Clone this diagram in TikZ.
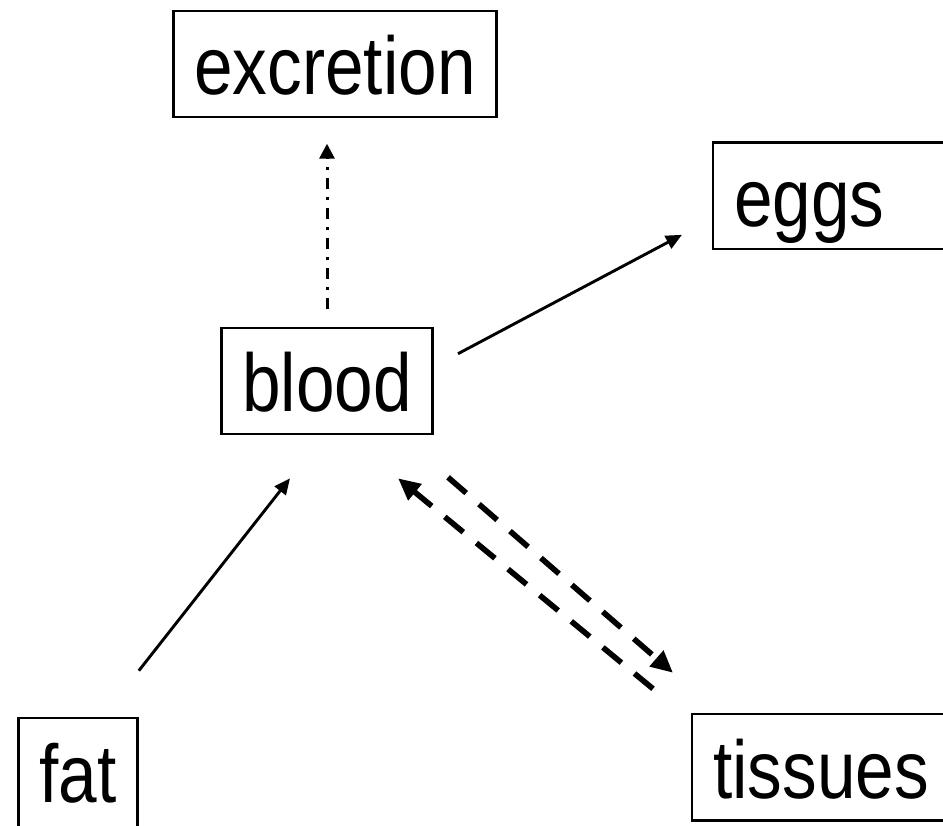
\documentclass[tikz,border=0pt]{standalone}
\usepackage{fontspec}
\setmainfont{Liberation Sans}[FakeStretch=0.845]
\usetikzlibrary{arrows.meta,calc}
\tikzset{
  boxtext/.style={anchor=base, font=\fontsize{82}{100}\selectfont,
    text height=78pt, text depth=16pt, inner ysep=6pt, inner xsep=21pt},
  box/.style={boxtext, draw, line width=2.6pt},
  openbox/.style={line width=2.6pt},
  thinarrow/.style={line width=2.9pt, -{Triangle[length=16pt,width=14pt]}},
  dasharrow/.style={line width=5.6pt, dash pattern=on 24pt off 17pt, -{Triangle[length=22pt,width=20pt]}},
  dotdasharrow/.style={line width=3pt, dash pattern=on 11pt off 8pt on 3pt off 8pt, -{Triangle[length=15pt,width=15pt]}}
}
\begin{document}
\begin{tikzpicture}[x=1pt,y=1pt]
\useasboundingbox (0,0) rectangle (943,-826);
\clip (0,0) rectangle (943,-826);
\node[box] (excretion) at (335,-95) {excretion};
\node[box] (blood) at (327,-412) {blood};
\node[boxtext, anchor=base west] (eggs) at (713,-227) {eggs\hspace*{60pt}};
\node[box, text depth=40pt] (fat) at (78,-802) {fat};
\node[boxtext, anchor=base west] (tissues) at (692,-798) {tissues\hspace*{40pt}};
\draw[openbox] (eggs.north east) -| (eggs.south west) -- (eggs.south east);
\draw[openbox] (tissues.north east) -| (tissues.south west) -- (tissues.south east);
% connector end points
\coordinate (b-up) at ($(blood.north)+(0,18)$);
\coordinate (ex-in) at ($(blood.north)+(0,183)$);
\coordinate (b-eggs) at ($(blood.north east)+(24,-27)$);
\coordinate (eggs-in) at ($(eggs.north west)+(-31,-92)$);
\coordinate (fat-out) at ($(fat.north east)+(0,46)$);
\coordinate (b-fat) at ($(blood.south)+(-37,-43)$);
\coordinate (b-tisL) at ($(blood.south east)+(-36,-43)$);
\coordinate (tis-L) at ($(tissues.north west)+(-39,25)$);
\coordinate (b-tisR) at ($(blood.south east)+(14,-42)$);
\coordinate (tis-R) at ($(tissues.north west)+(-19,41)$);
\draw[dotdasharrow] (b-up) -- (ex-in);
\draw[thinarrow] (b-eggs) -- (eggs-in);
\draw[thinarrow] (fat-out) -- (b-fat);
\draw[dasharrow] (tis-L) -- (b-tisL);
\draw[dasharrow] (b-tisR) -- (tis-R);
\end{tikzpicture}
\end{document}
